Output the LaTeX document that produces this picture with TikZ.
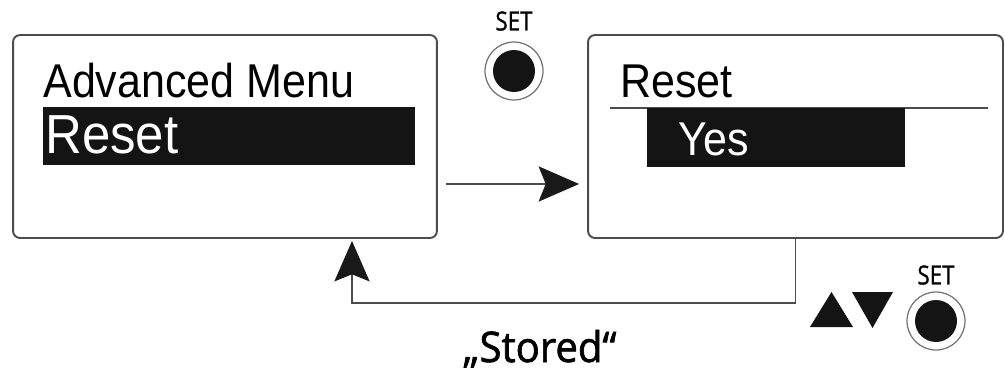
\documentclass[tikz,border=0pt]{standalone}
\usepackage{fontspec}
\setmainfont{Liberation Sans}
\newfontfamily\keyfont[FakeBold=1]{Open Sans}
\newfontfamily\notefont[FakeBold=1.6]{Open Sans}
\usepackage{tikz}
\usetikzlibrary{arrows.meta,positioning}
\colorlet{framegray}{black!70}

\begin{document}
\begin{tikzpicture}[x=0.02cm,y=-0.02cm,
  screen/.style={draw=framegray,line width=1.1pt,rounded corners=4pt,minimum height=4.06cm,inner sep=0},
  selbar/.style={fill=black!92,inner sep=0},
  menutext/.style={anchor=base west,inner sep=0,font=\fontsize{25}{25}\selectfont},
  flow/.style={draw=framegray,line width=1.1pt,-{Stealth[length=23pt,width=20pt,inset=4pt,color=black!90]}},
  setlabel/.style={font=\keyfont\fontsize{15}{15}\selectfont,inner sep=0},
  ring/.style={circle,draw=black!55,line width=0.7pt,minimum size=1.16cm,inner sep=0},
  knob/.style={circle,fill=black!92,minimum size=0.84cm,inner sep=0}]
\useasboundingbox (0,0) rectangle (1005,376);

\node[screen,minimum width=8.48cm] (adv) at (225,136.5) {};
\node[screen,minimum width=8.3cm] (rst) at (795.5,136.5) {};

% left screen
\node[selbar,minimum width=7.44cm,minimum height=1.16cm] (bar1) at (229,136) {};
\node[menutext] (advtext) at (43,97) {\scalebox{0.98}[1.08]{Advanced Menu}};
\node[menutext,text=white,font=\fontsize{29}{29}\selectfont] (advsel) at (45,153) {\scalebox{1}[1.08]{Reset}};

% right screen
\node[menutext] (rsttext) at (620,97) {\scalebox{0.98}[1.08]{Reset}};
\draw[framegray,line width=1.1pt] (610,108) -- (988,108);
\node[selbar,minimum width=5.16cm,minimum height=1.18cm] (bar2) at (776,137.5) {};
\node[menutext,text=white] (yes) at (678,155) {\scalebox{0.98}[1.08]{Yes}};

% keys
\node[setlabel] (set1) at (514,21) {\scalebox{0.85}[1]{SET}};
\node[ring] (btn1) at (514,71) {};
\node[knob] at (btn1) {};
\node[setlabel] (set2) at (936,275) {\scalebox{0.85}[1]{SET}};
\node[ring] (btn2) at (936,321) {};
\node[knob] at (btn2) {};
\fill[black!92] (810,327) -- (853,327) -- (831.5,292) -- cycle;
\fill[black!92] (852,292) -- (893,292) -- (872.5,328) -- cycle;

% connectors
\draw[flow,shorten <=0.16cm,shorten >=0.16cm] ([yshift=-0.95cm]adv.east) -- ([yshift=-0.95cm]rst.west);
\coordinate (ret) at (352,303);
\draw[flow,shorten >=0.04cm] (rst.south) |- (ret) -- (ret |- adv.south);

\node[anchor=base west,inner sep=0,font=\notefont\fontsize{24}{24}\selectfont] (stored) at (463,362) {\scalebox{0.95}[1]{„Stored“}};
\end{tikzpicture}
\end{document}
